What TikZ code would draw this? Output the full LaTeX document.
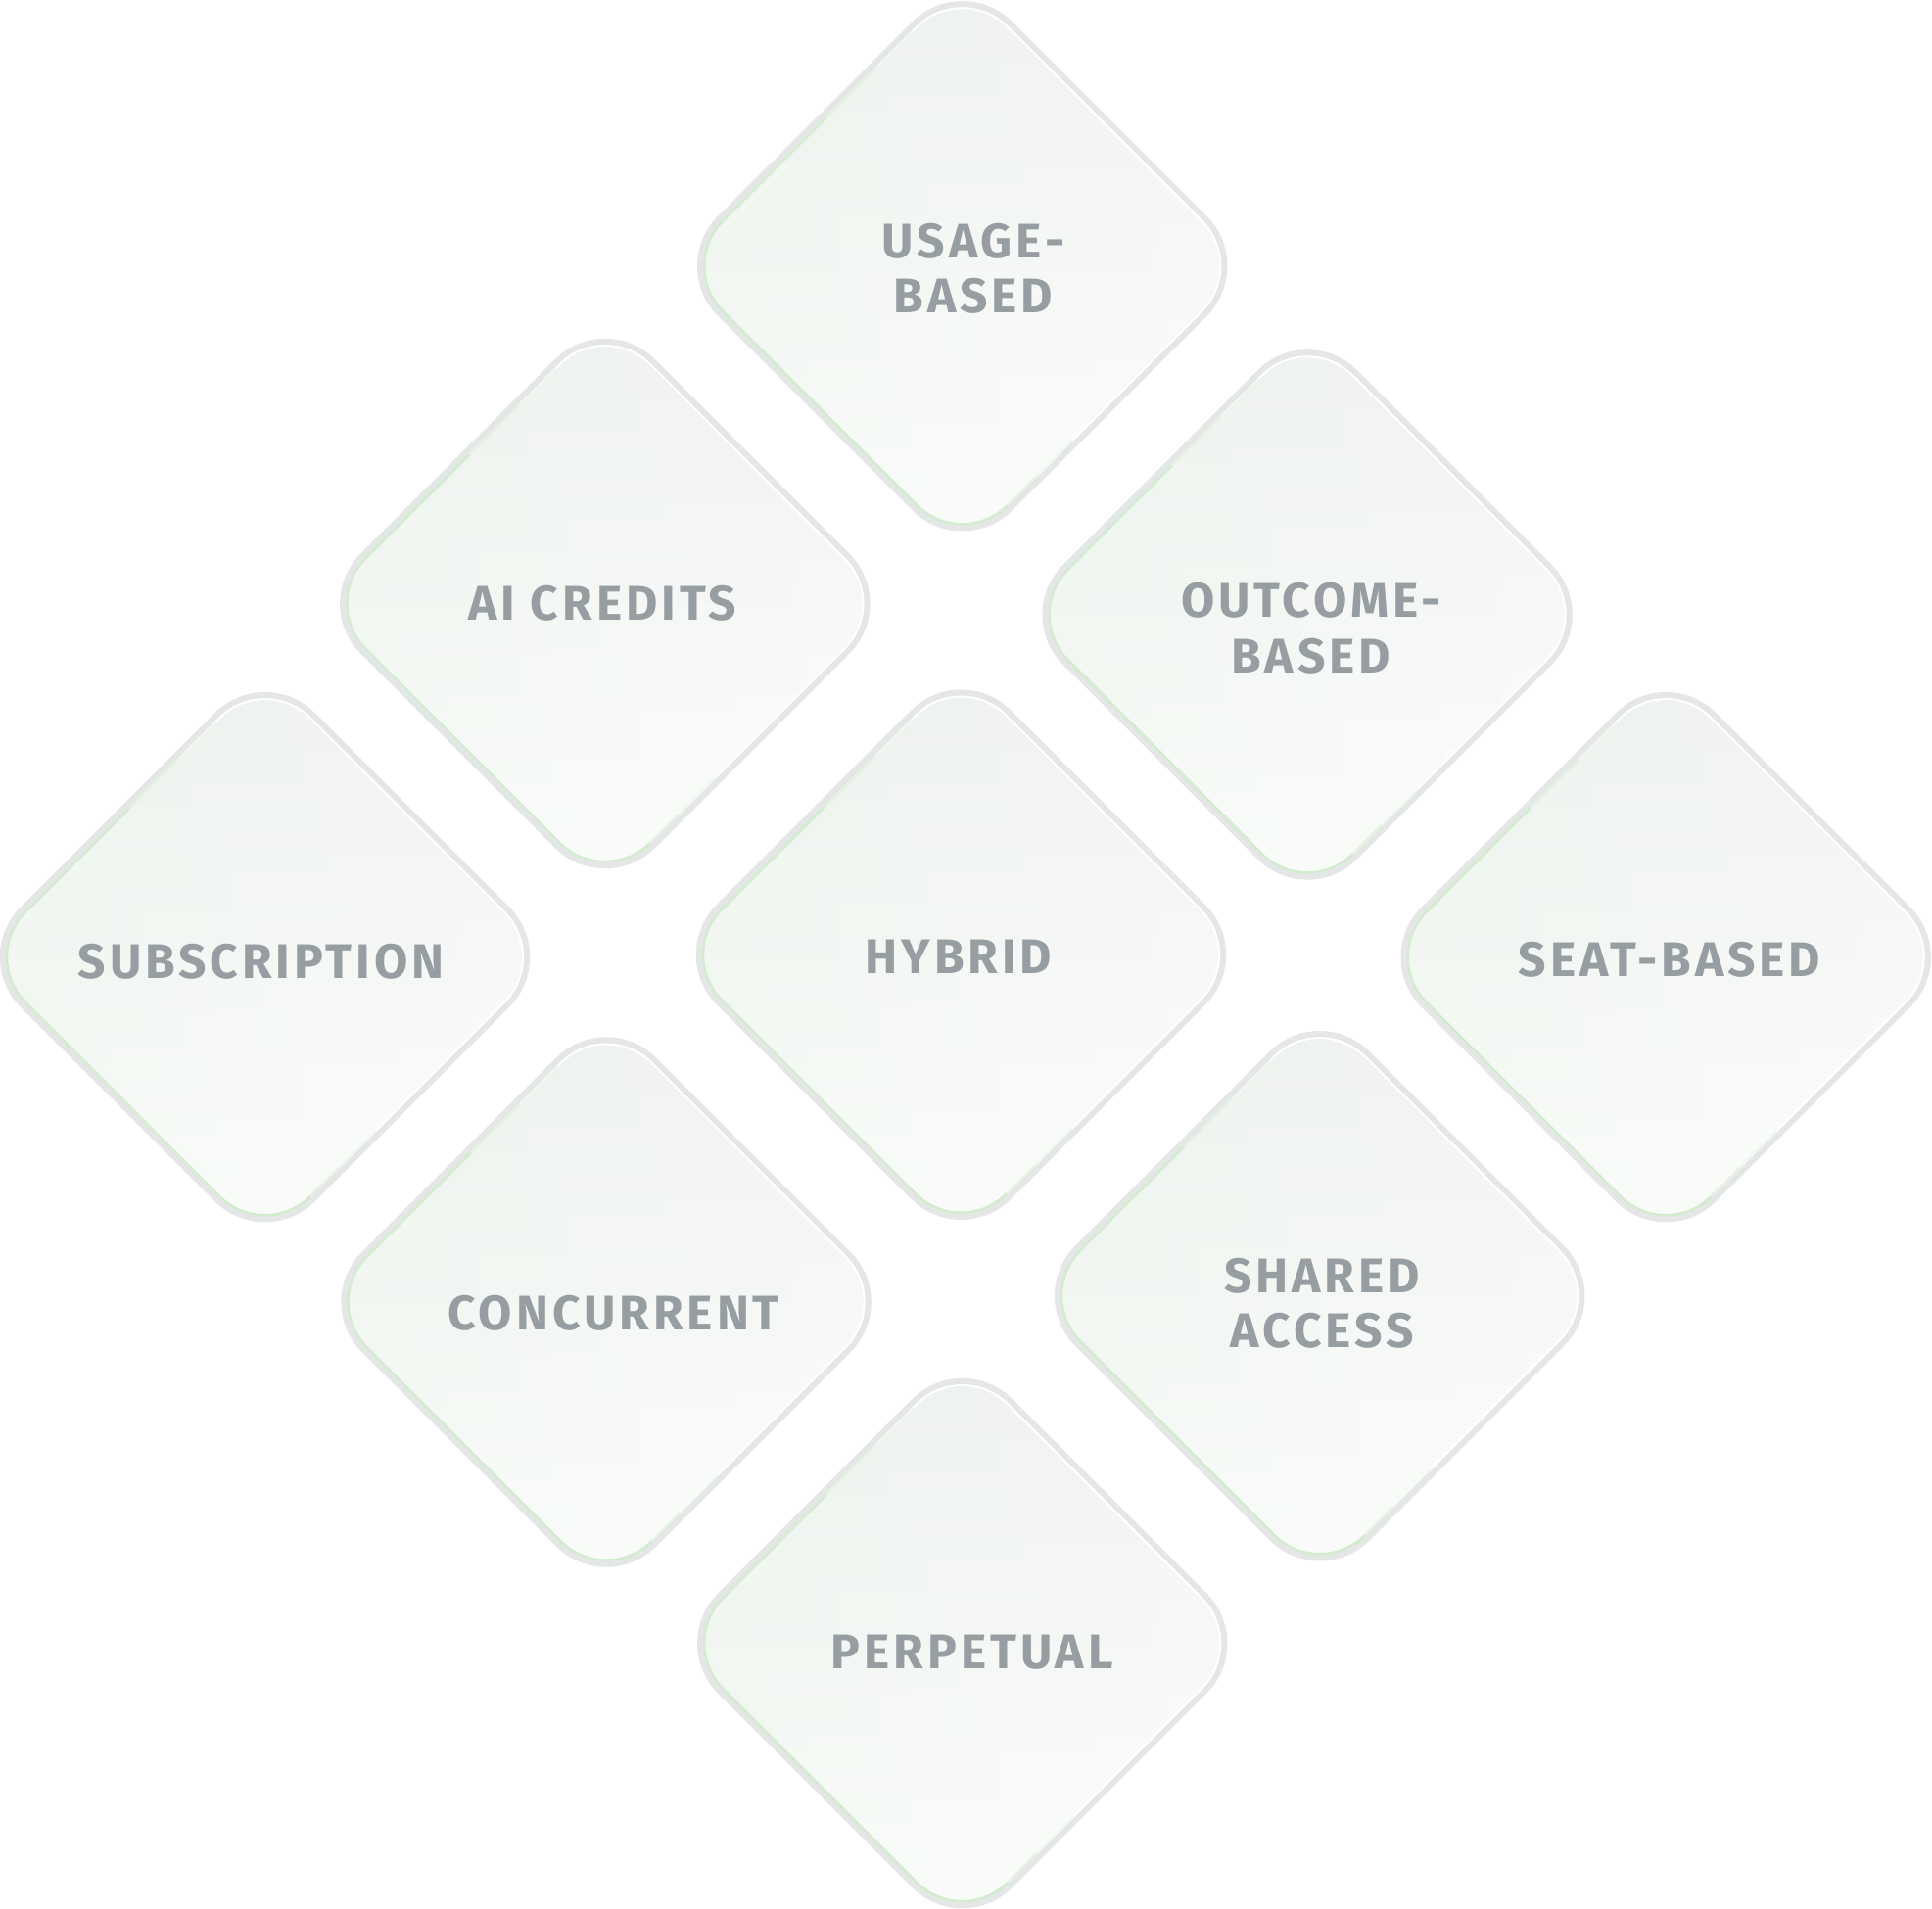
\documentclass[tikz,border=0pt]{standalone}
\usepackage{fontspec}
\setmainfont{Fira Sans}
\newfontfamily\cardfont{Fira Sans}[LetterSpace=8]
\usetikzlibrary{fadings}
\definecolor{rimgray}{HTML}{E5E7E6}
\definecolor{rimgreen}{HTML}{D3EBCF}
\definecolor{filltop}{HTML}{F1F3F2}
\definecolor{fillbot}{HTML}{FEFEFE}
\definecolor{glowgreen}{HTML}{E3F3E0}
\definecolor{txtgray}{HTML}{979EA2}
\tikzfading[name=glowfade, left color=transparent!72, right color=transparent!100]
\tikzset{
  cardlabel/.style={text=txtgray, font=\cardfont\bfseries\fontsize{39.5}{45}\selectfont, align=center, inner sep=0pt},
  cardrim/.style={draw=rimgray, line width=7, rounded corners=54},
  cardbody/.style={rounded corners=52},
  cardedge/.style={draw=rimgreen, line width=2, rounded corners=52},
}
\newcommand\diamondcard[6]{% name, cx, cy, tx, ty, label
  \begin{scope}[shift={(#2,#3)}]
    \path[cardrim] (0,-234) -- (234,0) -- (0,234) -- (-234,0) -- cycle;
    \shade[cardbody, top color=filltop, bottom color=fillbot] (0,-231) -- (231,0) -- (0,231) -- (-231,0) -- cycle;
    \fill[cardbody, glowgreen, path fading=glowfade] (0,-231) -- (231,0) -- (0,231) -- (-231,0) -- cycle;
    \draw[cardbody, white, line width=1.6] (0,-231) -- (231,0) -- (0,231) -- (-231,0) -- cycle;
    \path[cardedge] (-110,-121) -- (-231,0) -- (0,231) -- (30,201);
    \path[cardedge, draw opacity=0.55] (-70,-161) -- (-110,-121);
    \path[cardedge, draw opacity=0.25] (-40,-191) -- (-70,-161);
    \path[cardedge, draw opacity=0.55] (30,201) -- (60,171);
    \path[cardedge, draw opacity=0.25] (60,171) -- (90,141);
  \end{scope}
  \node[cardlabel] (#1) at (#4,#5) {#6};
}
\begin{document}
\begin{tikzpicture}[x=1pt, y=-1pt]
\useasboundingbox[fill=white] (0,0) rectangle (1568,1549);
\diamondcard{usage}{781}{216}{790}{218}{USAGE-\\BASED}
\diamondcard{ai}{491}{490}{489}{490}{AI CREDITS}
\diamondcard{outcome}{1061}{499}{1064}{510}{OUTCOME-\\BASED}
\diamondcard{subs}{215}{777}{212}{781}{SUBSCRIPTION}
\diamondcard{hybrid}{780}{775}{778}{777}{HYBRID}
\diamondcard{seat}{1352}{777}{1355}{779}{SEAT-BASED}
\diamondcard{conc}{492}{1057}{498}{1066}{CONCURRENT}
\diamondcard{shared}{1071}{1052}{1073}{1058}{SHARED\\ACCESS}
\diamondcard{perp}{781}{1334}{789}{1341}{PERPETUAL}
\end{tikzpicture}
\end{document}
